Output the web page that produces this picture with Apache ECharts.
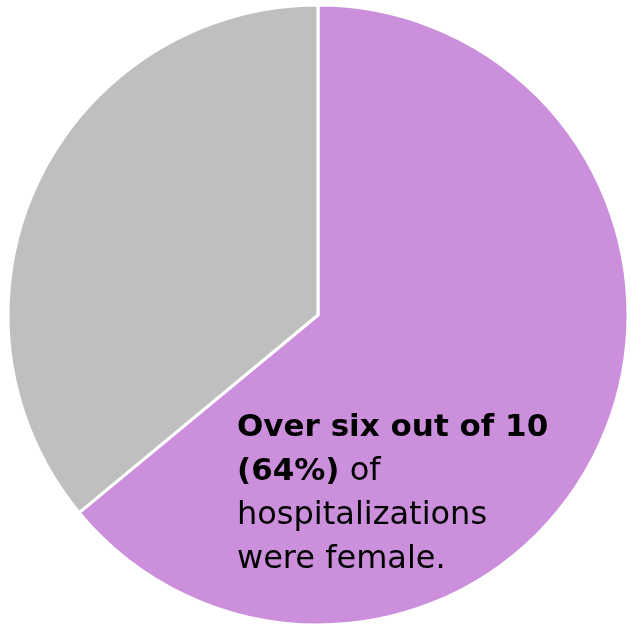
<!DOCTYPE html>
<html>
<head>
<meta charset="utf-8">
<script src="https://cdn.jsdelivr.net/npm/echarts@6/dist/echarts.min.js"></script>
<style>
html, body { margin: 0; padding: 0; background: #fff; }
#chart { width: 631px; height: 624px; }
</style>
</head>
<body>
<div id="chart"></div>
<script>
// hospitalizations by sex
const categories = ['Female', 'Male'];
const shares = [64, 36];
const colors = ['#CC8FDC', '#BFBFBF'];

const chart = echarts.init(document.getElementById('chart'));
const option = {
  animation: false,
  title: {
    left: 232,
    top: 401,
    text: '{b|Over six out of 10}\n{b|(64%)}{n| of}\n{n|hospitalizations}\n{n|were female.}',
    textStyle: {
      fontWeight: 'normal',
      rich: {
        b: { fontFamily: 'DejaVu Sans', fontWeight: 'bold', fontSize: 31, color: '#000', lineHeight: 44 },
        n: { fontFamily: 'DejaVu Sans', fontWeight: 'normal', fontSize: 32, color: '#000', lineHeight: 44 }
      }
    }
  },
  series: [{
    type: 'pie',
    center: [318, 315],
    radius: [0, 310],
    startAngle: 90,
    clockwise: true,
    label: { show: false },
    labelLine: { show: false },
    itemStyle: { borderColor: '#fff', borderWidth: 3 },
    emphasis: { disabled: true },
    data: categories.map((c, i) => ({ name: c, value: shares[i], itemStyle: { color: colors[i] } }))
  }]
};
chart.setOption(option);
</script>
</body>
</html>
